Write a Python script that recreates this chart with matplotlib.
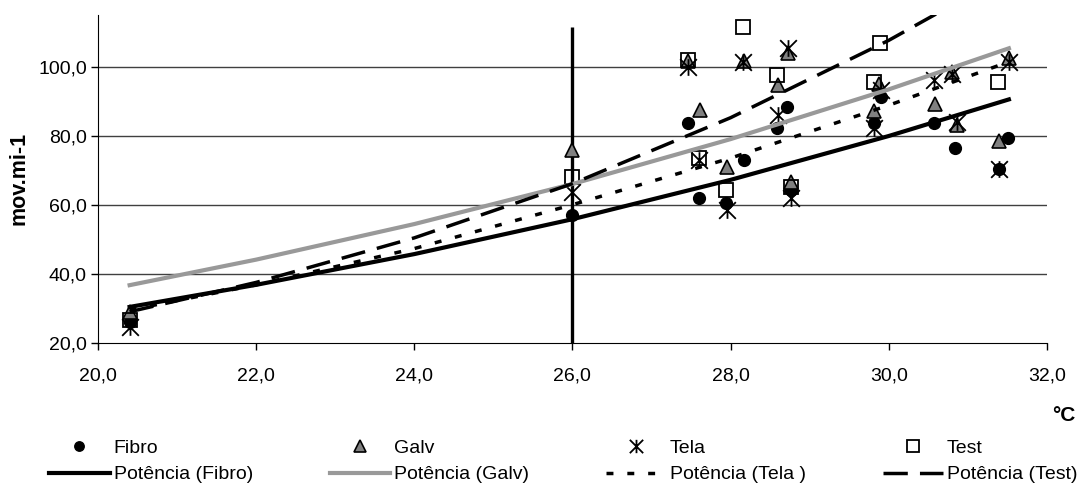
import numpy as np
import matplotlib
matplotlib.use("Agg")
import matplotlib.pyplot as plt
from matplotlib.path import Path
from matplotlib.ticker import FuncFormatter

plt.rcParams['font.family'] = ['Liberation Sans', 'DejaVu Sans']

# scatter data (temperature, mov.min-1)
fibro_x = [20.4, 26.0, 27.46, 27.6, 27.94, 28.17, 28.59, 28.72, 28.77, 29.82, 29.9, 30.57, 30.84, 31.39, 31.51]
fibro_y = [26.0, 57.0, 83.6, 62.0, 60.4, 73.0, 82.3, 88.4, 64.3, 83.6, 91.1, 83.6, 76.3, 70.3, 79.2]

galv_x = [20.4, 26.0, 27.46, 27.61, 27.96, 28.17, 28.6, 28.73, 28.77, 29.82, 29.88, 30.58, 30.8, 30.86, 31.39, 31.52]
galv_y = [29.0, 75.9, 101.5, 87.5, 71.0, 101.5, 94.7, 104.0, 66.7, 87.0, 95.0, 89.2, 98.5, 83.1, 78.6, 102.4]

tela_x = [20.4, 26.0, 27.46, 27.6, 27.96, 28.16, 28.6, 28.73, 28.77, 29.82, 29.9, 30.57, 30.8, 30.86, 31.39, 31.52]
tela_y = [24.5, 63.8, 100.0, 73.0, 58.5, 101.4, 86.0, 105.3, 62.0, 82.3, 93.2, 96.0, 98.0, 84.0, 70.3, 101.4]

test_x = [20.4, 26.0, 27.46, 27.6, 27.94, 28.16, 28.59, 28.76, 29.82, 29.89, 31.38]
test_y = [26.5, 68.1, 102.0, 73.5, 64.3, 111.6, 97.6, 65.2, 95.4, 106.8, 95.4]

# power trendlines
trend_x = [20.4, 22.0, 24.0, 26.0, 28.0, 30.0, 31.52]
fibro_trend = [30.4, 36.8, 45.7, 55.8, 67.2, 79.9, 90.5]
galv_trend = [36.7, 44.1, 54.4, 66.0, 79.0, 93.4, 105.3]
tela_trend = [29.5, 36.8, 47.3, 60.0, 73.5, 88.8, 101.4]
test_trend = [29.0, 37.5, 50.4, 66.1, 85.2, 107.6, 127.0]

vline_x = 26.0
vline_top = 111.5

# Excel style star marker: X with a vertical bar
star = Path([(-1, -1), (1, 1), (-1, 1), (1, -1), (0, -1), (0, 1)],
            [Path.MOVETO, Path.LINETO, Path.MOVETO, Path.LINETO, Path.MOVETO, Path.LINETO])

fig = plt.figure(figsize=(10.77, 4.94), dpi=100)
ax = fig.add_axes([0.091, 0.306, 0.881, 0.664])

ax.set_xlim(20, 32)
ax.set_ylim(20, 115)
ax.set_xticks(np.arange(20, 33, 2))
ax.set_yticks(np.arange(20, 101, 20))
fmt = FuncFormatter(lambda v, p: f"{v:.1f}".replace('.', ','))
ax.xaxis.set_major_formatter(fmt)
ax.yaxis.set_major_formatter(fmt)
ax.tick_params(axis='both', labelsize=14, length=5, width=1, direction='out', color='black')
ax.tick_params(axis='x', pad=13)
ax.tick_params(axis='y', pad=3)

for s in ['top', 'right']:
    ax.spines[s].set_visible(False)
ax.spines['left'].set_color('black')
ax.spines['bottom'].set_color('black')

for yv in [40, 60, 80, 100]:
    ax.axhline(yv, color='#404040', lw=1.0, zorder=1)

ax.vlines(vline_x, 20, vline_top, color='black', lw=2.4, zorder=2)

ax.plot(fibro_x, fibro_y, ls='none', marker='o', ms=8.5, mfc='black', mec='black', zorder=3, label='Fibro')
ax.plot(galv_x, galv_y, ls='none', marker='^', ms=10, mfc='#808080', mec='black', mew=1.2, zorder=3, label='Galv')
ax.plot(tela_x, tela_y, ls='none', marker=star, ms=12, mfc='none', mec='black', mew=1.3, zorder=3, label='Tela')
ax.plot(test_x, test_y, ls='none', marker='s', ms=10, mfc='none', mec='black', mew=1.3, zorder=3, label='Test')

ax.plot(trend_x, fibro_trend, color='black', lw=3, zorder=4, label='Potência (Fibro)')
ax.plot(trend_x, galv_trend, color='#999999', lw=3, zorder=4, label='Potência (Galv)')
ax.plot(trend_x, tela_trend, color='black', lw=2.5, ls=(0, (2, 4)), zorder=4, label='Potência (Tela )')
ax.plot(trend_x, test_trend, color='black', lw=2.5, ls=(0, (7, 3.5)), zorder=4, label='Potência (Test)')

ax.set_ylabel('mov.mi-1', fontsize=15.5, fontweight='bold', labelpad=6)
fig.text(0.999, 0.158, '°C', fontsize=15, fontweight='bold', ha='right', va='center')

h, lab = ax.get_legend_handles_labels()
order = [0, 4, 1, 5, 2, 6, 3, 7]
fig.legend([h[i] for i in order], [lab[i] for i in order], ncol=4, loc='center',
           bbox_to_anchor=(0.523, 0.066), frameon=False, fontsize=14,
           handlelength=3.1, handletextpad=0.2, columnspacing=3.95, labelspacing=0.45,
           markerscale=0.8)

fig.savefig('out.png', dpi=100)
